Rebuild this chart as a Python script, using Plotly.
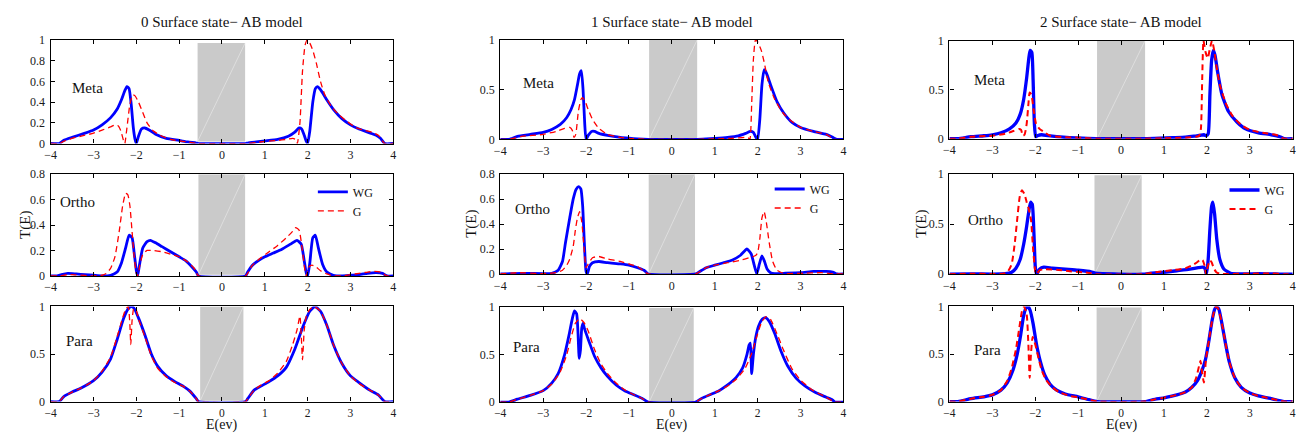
import plotly.graph_objects as go

# ---------------- data ----------------
TITLES = ["0 Surface state\u2212 AB model", "1 Surface state\u2212 AB model", "2 Surface state\u2212 AB model"]
ROW_NAMES = ["Meta", "Ortho", "Para"]
X_TICKS = [-4, -3, -2, -1, 0, 1, 2, 3, 4]

# column 0 (0 surface state)
wg_m0 = [(-4, 0), (-3.8, 0), (-3.7, 0.03), (-3.5, 0.06), (-3.2, 0.1), (-3.0, 0.13), (-2.8, 0.18), (-2.6, 0.25),
         (-2.45, 0.33), (-2.35, 0.42), (-2.27, 0.51), (-2.22, 0.55), (-2.17, 0.53), (-2.12, 0.38), (-2.07, 0.15),
         (-2.03, 0.04), (-2.0, 0), (-1.95, 0.07), (-1.88, 0.14), (-1.8, 0.15), (-1.7, 0.13), (-1.55, 0.09),
         (-1.3, 0.05), (-1.0, 0.03), (-0.8, 0.015), (-0.6, 0.005), (-0.55, 0), (0.55, 0), (0.6, 0.005),
         (0.8, 0.015), (1.0, 0.025), (1.3, 0.04), (1.55, 0.07), (1.7, 0.11), (1.8, 0.15), (1.86, 0.14),
         (1.92, 0.08), (1.97, 0.02), (2.0, 0), (2.05, 0.12), (2.12, 0.4), (2.18, 0.53), (2.23, 0.55), (2.3, 0.52),
         (2.45, 0.42), (2.6, 0.33), (2.8, 0.24), (3.0, 0.18), (3.2, 0.14), (3.4, 0.11), (3.6, 0.08), (3.7, 0.05),
         (3.8, 0), (4.0, 0)]
g_m0 = [(-4, 0), (-3.8, 0), (-3.7, 0.02), (-3.5, 0.05), (-3.2, 0.08), (-3.0, 0.1), (-2.8, 0.13), (-2.6, 0.16),
        (-2.5, 0.18), (-2.42, 0.17), (-2.36, 0.12), (-2.3, 0.03), (-2.27, 0), (-2.22, 0.15), (-2.15, 0.38),
        (-2.08, 0.47), (-2.03, 0.46), (-1.95, 0.4), (-1.85, 0.3), (-1.75, 0.2), (-1.6, 0.12), (-1.4, 0.07),
        (-1.2, 0.04), (-1.0, 0.025), (-0.8, 0.015), (-0.55, 0), (0.55, 0), (0.8, 0.01), (1.0, 0.02), (1.3, 0.03),
        (1.5, 0.04), (1.65, 0.05), (1.72, 0.04), (1.76, 0), (1.82, 0.2), (1.88, 0.7), (1.94, 0.95), (1.99, 1.0),
        (2.05, 0.97), (2.12, 0.9), (2.2, 0.78), (2.3, 0.6), (2.4, 0.47), (2.55, 0.36), (2.7, 0.29), (2.9, 0.22),
        (3.1, 0.16), (3.3, 0.13), (3.5, 0.11), (3.65, 0.08), (3.8, 0), (4, 0)]
wg_o0 = [(-4, 0), (-3.85, 0), (-3.75, 0.01), (-3.6, 0.02), (-3.4, 0.015), (-3.2, 0.01), (-3.0, 0.005),
         (-2.8, 0.0), (-2.6, 0.005), (-2.45, 0.03), (-2.35, 0.1), (-2.25, 0.22), (-2.17, 0.32), (-2.1, 0.3),
         (-2.05, 0.18), (-2.0, 0.04), (-1.97, 0), (-1.93, 0.08), (-1.85, 0.22), (-1.75, 0.27), (-1.67, 0.28),
         (-1.55, 0.26), (-1.4, 0.23), (-1.2, 0.19), (-1.0, 0.15), (-0.85, 0.12), (-0.7, 0.07), (-0.6, 0.03),
         (-0.55, 0), (0.55, 0), (0.6, 0.03), (0.7, 0.08), (0.85, 0.12), (1.0, 0.15), (1.2, 0.18), (1.4, 0.21),
         (1.6, 0.25), (1.75, 0.28), (1.85, 0.25), (1.92, 0.12), (1.97, 0.02), (2.0, 0), (2.05, 0.1), (2.12, 0.3),
         (2.18, 0.32), (2.25, 0.22), (2.35, 0.09), (2.45, 0.03), (2.6, 0.005), (2.8, 0.0), (3.0, 0.005),
         (3.2, 0.01), (3.4, 0.02), (3.6, 0.025), (3.75, 0.02), (3.85, 0), (4, 0)]
g_o0 = [(-4, 0), (-3.8, 0), (-3.6, 0.01), (-3.4, 0.008), (-3.0, 0.0), (-2.8, 0.005), (-2.7, 0.02), (-2.6, 0.06),
        (-2.5, 0.15), (-2.4, 0.35), (-2.32, 0.55), (-2.25, 0.65), (-2.2, 0.64), (-2.15, 0.55), (-2.1, 0.35),
        (-2.05, 0.15), (-2.0, 0.02), (-1.97, 0), (-1.92, 0.08), (-1.85, 0.17), (-1.75, 0.2), (-1.6, 0.2),
        (-1.4, 0.19), (-1.2, 0.17), (-1.0, 0.15), (-0.8, 0.11), (-0.65, 0.06), (-0.55, 0), (0.55, 0),
        (0.7, 0.08), (0.9, 0.14), (1.1, 0.19), (1.3, 0.24), (1.5, 0.3), (1.65, 0.35), (1.72, 0.38), (1.8, 0.36),
        (1.87, 0.22), (1.93, 0.06), (1.97, 0), (2.03, 0.07), (2.1, 0.085), (2.2, 0.07), (2.3, 0.04),
        (2.45, 0.015), (2.6, 0.0), (2.8, 0.0), (3.0, 0.01), (3.2, 0.02), (3.4, 0.03), (3.55, 0.035), (3.7, 0.03),
        (3.85, 0), (4, 0)]
wg_p0 = [(-4, 0), (-3.8, 0), (-3.7, 0.05), (-3.5, 0.1), (-3.3, 0.14), (-3.0, 0.22), (-2.8, 0.31), (-2.6, 0.45),
         (-2.45, 0.65), (-2.3, 0.87), (-2.2, 0.97), (-2.12, 1.0), (-2.05, 0.98), (-1.95, 0.88), (-1.8, 0.7),
         (-1.65, 0.5), (-1.5, 0.37), (-1.3, 0.27), (-1.1, 0.21), (-0.9, 0.16), (-0.75, 0.11), (-0.6, 0.03),
         (-0.55, 0), (0.55, 0), (0.6, 0.03), (0.75, 0.12), (0.9, 0.16), (1.1, 0.21), (1.3, 0.27), (1.5, 0.36),
         (1.7, 0.55), (1.9, 0.8), (2.05, 0.95), (2.17, 1.0), (2.3, 0.95), (2.45, 0.8), (2.6, 0.6), (2.8, 0.4),
         (3.0, 0.27), (3.2, 0.2), (3.45, 0.12), (3.65, 0.07), (3.8, 0), (4, 0)]
g_p0 = [(-4, 0), (-3.8, 0), (-3.7, 0.05), (-3.5, 0.1), (-3.3, 0.14), (-3.0, 0.22), (-2.8, 0.32), (-2.6, 0.47),
        (-2.45, 0.68), (-2.32, 0.88), (-2.25, 0.97), (-2.19, 1.0), (-2.15, 0.8), (-2.13, 0.6), (-2.1, 0.85),
        (-2.06, 0.98), (-2.0, 0.96), (-1.95, 0.87), (-1.8, 0.68), (-1.65, 0.48), (-1.5, 0.35), (-1.3, 0.26),
        (-1.1, 0.2), (-0.9, 0.16), (-0.75, 0.11), (-0.6, 0.03), (-0.55, 0), (0.55, 0), (0.6, 0.03), (0.75, 0.12),
        (0.9, 0.17), (1.1, 0.22), (1.3, 0.3), (1.5, 0.42), (1.65, 0.6), (1.75, 0.75), (1.82, 0.9), (1.85, 0.7),
        (1.88, 0.44), (1.92, 0.75), (1.97, 0.9), (2.05, 0.97), (2.15, 1.0), (2.3, 0.95), (2.45, 0.8), (2.6, 0.6),
        (2.8, 0.4), (3.0, 0.27), (3.2, 0.19), (3.45, 0.12), (3.65, 0.07), (3.8, 0), (4, 0)]

# column 1 (1 surface state)
wg_m1 = [(-4, 0), (-3.8, 0), (-3.6, 0.03), (-3.3, 0.05), (-3.0, 0.07), (-2.8, 0.1), (-2.6, 0.15), (-2.45, 0.22),
         (-2.35, 0.3), (-2.27, 0.4), (-2.2, 0.55), (-2.15, 0.66), (-2.11, 0.69), (-2.07, 0.5), (-2.03, 0.15),
         (-2.0, 0), (-1.95, 0.04), (-1.87, 0.08), (-1.8, 0.08), (-1.7, 0.06), (-1.5, 0.04), (-1.2, 0.02),
         (-1.0, 0.012), (-0.8, 0.005), (-0.55, 0), (0.55, 0), (0.8, 0.005), (1.0, 0.01), (1.3, 0.02),
         (1.55, 0.035), (1.72, 0.06), (1.83, 0.08), (1.9, 0.07), (1.96, 0.02), (2.0, 0), (2.05, 0.2), (2.1, 0.55),
         (2.15, 0.7), (2.2, 0.67), (2.3, 0.55), (2.45, 0.38), (2.6, 0.27), (2.8, 0.17), (3.0, 0.12), (3.3, 0.08),
         (3.6, 0.05), (3.75, 0.02), (3.85, 0), (4, 0)]
g_m1 = [(-4, 0), (-3.8, 0), (-3.5, 0.03), (-3.0, 0.05), (-2.7, 0.08), (-2.5, 0.11), (-2.38, 0.12), (-2.32, 0.09),
        (-2.28, 0.02), (-2.24, 0.05), (-2.18, 0.28), (-2.12, 0.4), (-2.08, 0.42), (-2.02, 0.38), (-1.95, 0.3),
        (-1.85, 0.2), (-1.7, 0.11), (-1.5, 0.05), (-1.2, 0.02), (-1.0, 0.01), (-0.55, 0), (0.55, 0), (1.0, 0.005),
        (1.4, 0.01), (1.7, 0.02), (1.78, 0.015), (1.82, 0), (1.86, 0.35), (1.9, 0.8), (1.95, 1.0), (2.0, 0.98),
        (2.08, 0.9), (2.15, 0.78), (2.25, 0.57), (2.4, 0.4), (2.6, 0.26), (2.8, 0.18), (3.0, 0.12), (3.3, 0.08),
        (3.6, 0.05), (3.8, 0), (4, 0)]
wg_o1 = [(-4, 0), (-3.5, 0.005), (-3.0, 0.003), (-2.8, 0.005), (-2.65, 0.03), (-2.55, 0.1), (-2.48, 0.25),
         (-2.38, 0.45), (-2.3, 0.6), (-2.23, 0.68), (-2.17, 0.7), (-2.12, 0.68), (-2.08, 0.55), (-2.04, 0.25),
         (-2.0, 0.02), (-1.97, 0), (-1.92, 0.06), (-1.85, 0.09), (-1.7, 0.1), (-1.5, 0.09), (-1.2, 0.08),
         (-1.0, 0.07), (-0.8, 0.05), (-0.65, 0.03), (-0.55, 0), (0.55, 0), (0.65, 0.02), (0.8, 0.05), (1.0, 0.07),
         (1.2, 0.09), (1.4, 0.11), (1.6, 0.15), (1.75, 0.2), (1.85, 0.16), (1.92, 0.07), (1.98, 0), (2.04, 0.08),
         (2.1, 0.145), (2.16, 0.1), (2.22, 0.04), (2.3, 0.01), (2.4, 0.003), (2.6, 0.005), (3.0, 0.01),
         (3.3, 0.02), (3.6, 0.02), (3.75, 0.015), (3.85, 0), (4, 0)]
g_o1 = [(-4, 0), (-3.6, 0.01), (-3.0, 0.003), (-2.7, 0.01), (-2.55, 0.03), (-2.45, 0.07), (-2.38, 0.12),
        (-2.3, 0.22), (-2.25, 0.35), (-2.2, 0.45), (-2.15, 0.5), (-2.1, 0.42), (-2.05, 0.22), (-2.0, 0.05),
        (-1.95, 0.08), (-1.85, 0.13), (-1.7, 0.14), (-1.5, 0.12), (-1.2, 0.1), (-1.0, 0.08), (-0.8, 0.06),
        (-0.55, 0), (0.55, 0), (0.8, 0.05), (1.0, 0.07), (1.3, 0.09), (1.6, 0.11), (1.8, 0.13), (1.9, 0.14),
        (1.96, 0.15), (2.0, 0.17), (2.05, 0.28), (2.1, 0.45), (2.15, 0.5), (2.2, 0.42), (2.27, 0.25),
        (2.35, 0.1), (2.45, 0.03), (2.6, 0.005), (3.0, 0.005), (3.5, 0.01), (3.8, 0), (4, 0)]
wg_p1 = [(-4, 0), (-3.8, 0), (-3.6, 0.03), (-3.3, 0.07), (-3.0, 0.12), (-2.8, 0.2), (-2.65, 0.3), (-2.5, 0.5),
         (-2.4, 0.7), (-2.32, 0.88), (-2.27, 0.96), (-2.22, 0.93), (-2.19, 0.75), (-2.16, 0.46), (-2.13, 0.55),
         (-2.1, 0.78), (-2.07, 0.83), (-2.04, 0.78), (-1.98, 0.7), (-1.9, 0.6), (-1.8, 0.48), (-1.65, 0.36),
         (-1.5, 0.27), (-1.3, 0.18), (-1.1, 0.12), (-0.9, 0.08), (-0.7, 0.04), (-0.55, 0), (0.55, 0), (0.7, 0.04),
         (0.9, 0.08), (1.1, 0.12), (1.3, 0.18), (1.5, 0.26), (1.65, 0.36), (1.75, 0.5), (1.8, 0.6), (1.83, 0.62),
         (1.86, 0.3), (1.9, 0.5), (1.95, 0.67), (2.02, 0.8), (2.1, 0.87), (2.18, 0.89), (2.27, 0.85), (2.4, 0.72),
         (2.55, 0.53), (2.7, 0.38), (2.9, 0.25), (3.1, 0.17), (3.35, 0.1), (3.6, 0.05), (3.75, 0.02), (3.8, 0),
         (4, 0)]
g_p1 = [(-4, 0), (-3.8, 0), (-3.6, 0.03), (-3.3, 0.07), (-3.0, 0.12), (-2.8, 0.19), (-2.6, 0.32), (-2.45, 0.5),
        (-2.35, 0.68), (-2.25, 0.83), (-2.15, 0.88), (-2.05, 0.84), (-1.95, 0.75), (-1.8, 0.55), (-1.65, 0.4),
        (-1.5, 0.3), (-1.3, 0.2), (-1.1, 0.13), (-0.9, 0.08), (-0.7, 0.04), (-0.55, 0), (0.55, 0), (0.7, 0.04),
        (0.9, 0.08), (1.1, 0.12), (1.3, 0.17), (1.5, 0.24), (1.7, 0.35), (1.85, 0.5), (2.0, 0.72), (2.1, 0.85),
        (2.2, 0.9), (2.3, 0.87), (2.45, 0.72), (2.6, 0.55), (2.8, 0.35), (3.0, 0.23), (3.3, 0.12), (3.6, 0.05),
        (3.8, 0), (4, 0)]

# column 2 (2 surface states)
wg_m2 = [(-4, 0), (-3.8, 0), (-3.5, 0.02), (-3.2, 0.03), (-3.0, 0.04), (-2.8, 0.06), (-2.6, 0.1), (-2.45, 0.16),
         (-2.35, 0.25), (-2.27, 0.4), (-2.2, 0.62), (-2.15, 0.82), (-2.12, 0.9), (-2.08, 0.88), (-2.05, 0.6),
         (-2.02, 0.15), (-1.99, 0.02), (-1.95, 0.03), (-1.85, 0.04), (-1.7, 0.03), (-1.5, 0.02), (-1.2, 0.01),
         (-0.9, 0.005), (-0.55, 0), (0.55, 0), (0.9, 0.005), (1.2, 0.01), (1.5, 0.015), (1.7, 0.025),
         (1.85, 0.035), (1.93, 0.04), (1.98, 0.03), (2.03, 0.05), (2.07, 0.45), (2.11, 0.8), (2.15, 0.9),
         (2.19, 0.85), (2.25, 0.68), (2.35, 0.45), (2.5, 0.28), (2.7, 0.17), (2.9, 0.1), (3.2, 0.06), (3.5, 0.04),
         (3.7, 0.02), (3.8, 0), (4, 0)]
g_m2 = [(-4, 0), (-3.8, 0), (-3.5, 0.02), (-3.0, 0.03), (-2.7, 0.05), (-2.5, 0.08), (-2.38, 0.1), (-2.33, 0.09),
        (-2.29, 0.03), (-2.25, 0.04), (-2.2, 0.15), (-2.16, 0.35), (-2.13, 0.47), (-2.09, 0.45), (-2.04, 0.3),
        (-1.98, 0.15), (-1.9, 0.1), (-1.8, 0.07), (-1.65, 0.03), (-1.3, 0.015), (-1.0, 0.01), (-0.55, 0), (0.55, 0),
        (1.0, 0.005), (1.5, 0.01), (1.75, 0.02), (1.82, 0.03), (1.86, 0.1), (1.89, 0.6), (1.92, 1.0), (1.97, 0.88),
        (2.02, 0.82), (2.07, 0.92), (2.12, 1.0), (2.17, 0.9), (2.22, 0.75), (2.3, 0.55), (2.45, 0.35),
        (2.6, 0.23), (2.8, 0.14), (3.0, 0.09), (3.3, 0.06), (3.6, 0.04), (3.8, 0), (4, 0)]
wg_o2 = [(-4, 0), (-3.5, 0.003), (-3.0, 0.002), (-2.7, 0.005), (-2.55, 0.02), (-2.45, 0.06), (-2.35, 0.15),
         (-2.27, 0.3), (-2.2, 0.48), (-2.15, 0.63), (-2.11, 0.72), (-2.07, 0.7), (-2.03, 0.4), (-2.0, 0.08),
         (-1.97, 0), (-1.9, 0.05), (-1.8, 0.07), (-1.6, 0.06), (-1.3, 0.05), (-1.0, 0.04), (-0.7, 0.025),
         (-0.6, 0.01), (0.5, 0), (0.7, 0.01), (1.0, 0.02), (1.3, 0.035), (1.6, 0.05), (1.8, 0.065), (1.9, 0.07),
         (1.95, 0.06), (1.99, 0), (2.03, 0.15), (2.07, 0.45), (2.11, 0.68), (2.14, 0.72), (2.18, 0.6),
         (2.23, 0.35), (2.3, 0.15), (2.4, 0.05), (2.55, 0.01), (2.8, 0.003), (3.2, 0.005), (3.6, 0.003),
         (3.8, 0), (4, 0)]
g_o2 = [(-4, 0), (-3.5, 0.005), (-3.0, 0.003), (-2.75, 0.005), (-2.65, 0.02), (-2.55, 0.1), (-2.48, 0.3),
        (-2.42, 0.55), (-2.36, 0.78), (-2.31, 0.84), (-2.25, 0.8), (-2.2, 0.72), (-2.15, 0.65), (-2.1, 0.55),
        (-2.05, 0.25), (-2.0, 0.03), (-1.97, 0), (-1.9, 0.04), (-1.8, 0.05), (-1.5, 0.045), (-1.2, 0.03),
        (-0.9, 0.02), (-0.7, 0.01), (-0.6, 0), (0.5, 0), (0.8, 0.02), (1.2, 0.04), (1.5, 0.06), (1.7, 0.1),
        (1.8, 0.13), (1.85, 0.15), (1.9, 0.14), (1.95, 0.08), (1.98, 0), (2.02, 0.08), (2.07, 0.14), (2.11, 0.12),
        (2.16, 0.06), (2.22, 0.02), (2.3, 0.005), (2.5, 0.003), (3.0, 0.005), (3.5, 0.008), (3.8, 0), (4, 0)]
wg_p2 = [(-4, 0), (-3.8, 0), (-3.5, 0.03), (-3.2, 0.05), (-3.0, 0.07), (-2.8, 0.12), (-2.65, 0.2),
         (-2.52, 0.33), (-2.42, 0.5), (-2.34, 0.7), (-2.28, 0.88), (-2.22, 0.98), (-2.17, 1.0), (-2.12, 0.96),
         (-2.05, 0.82), (-1.97, 0.6), (-1.88, 0.42), (-1.78, 0.28), (-1.65, 0.18), (-1.5, 0.12), (-1.3, 0.08),
         (-1.0, 0.05), (-0.75, 0.02), (-0.55, 0), (0.55, 0), (0.75, 0.02), (1.0, 0.04), (1.3, 0.07), (1.5, 0.1),
         (1.65, 0.15), (1.78, 0.22), (1.88, 0.32), (1.97, 0.45), (2.05, 0.65), (2.12, 0.85), (2.18, 0.97),
         (2.23, 1.0), (2.28, 0.97), (2.35, 0.82), (2.43, 0.62), (2.52, 0.42), (2.65, 0.25), (2.8, 0.15),
         (3.0, 0.09), (3.2, 0.06), (3.5, 0.03), (3.8, 0), (4, 0)]
g_p2 = [(-4, 0), (-3.8, 0), (-3.5, 0.03), (-3.2, 0.05), (-3.0, 0.07), (-2.8, 0.12), (-2.65, 0.22),
        (-2.55, 0.35), (-2.45, 0.55), (-2.37, 0.78), (-2.31, 0.95), (-2.26, 1.0), (-2.2, 0.92), (-2.16, 0.6),
        (-2.13, 0.25), (-2.1, 0.5), (-2.06, 0.68), (-2.0, 0.6), (-1.92, 0.45), (-1.85, 0.33), (-1.75, 0.23),
        (-1.6, 0.15), (-1.45, 0.1), (-1.2, 0.06), (-1.0, 0.045), (-0.75, 0.02), (-0.55, 0), (0.55, 0),
        (0.75, 0.02), (1.0, 0.04), (1.3, 0.07), (1.5, 0.1), (1.65, 0.15), (1.75, 0.25), (1.82, 0.38),
        (1.85, 0.43), (1.89, 0.3), (1.93, 0.2), (1.98, 0.45), (2.05, 0.65), (2.12, 0.85), (2.18, 0.97),
        (2.22, 1.0), (2.27, 0.97), (2.35, 0.82), (2.43, 0.62), (2.52, 0.42), (2.65, 0.25), (2.8, 0.15),
        (3.0, 0.09), (3.2, 0.06), (3.5, 0.03), (3.8, 0), (4, 0)]

# gray gap boxes (x0, x1, y0, y1) in data units, per column / row
gap_boxes = [[(-0.57, 0.54, 0.02, 0.97), (-0.55, 0.54, 0.008, 0.8), (-0.51, 0.50, 0.008, 1.0)],
             [(-0.53, 0.59, 0.0, 1.0), (-0.54, 0.54, 0.0, 0.8), (-0.53, 0.51, 0.0, 0.99)],
             [(-0.56, 0.56, 0.0, 1.0), (-0.62, 0.48, 0.0, 0.99), (-0.57, 0.48, 0.0, 0.99)]]
label_pos = [[(-3.15, 0.54), (-3.38, 0.58), (-3.33, 0.64)],
             [(-3.12, 0.57), (-3.25, 0.52), (-3.39, 0.58)],
             [(-3.07, 0.60), (-3.15, 0.54), (-3.11, 0.54)]]
y_max = [[1, 0.8, 1], [1, 0.8, 1], [1, 1, 1]]
y_step = [[0.2, 0.2, 0.5], [0.5, 0.2, 0.5], [0.5, 0.5, 0.5]]

series = [[(wg_m0, g_m0), (wg_o0, g_o0), (wg_p0, g_p0)],
          [(wg_m1, g_m1), (wg_o1, g_o1), (wg_p1, g_p1)],
          [(wg_m2, g_m2), (wg_o2, g_o2), (wg_p2, g_p2)]]

# ---------------- layout geometry (pixels) ----------------
W, H = 1300, 441
col_px = [(45, 390), (497.7, 843.3), (950, 1295.7)]
row_px = [[(34, 141), (172.7, 277.7), (309.3, 407.5)],
          [(34, 136.7), (172.7, 275.7), (310, 408)],
          [(34.7, 136), (172.7, 276), (309.3, 407.5)]]
legend_px = [(309, 176), (769, 173), (1227, 174)]
blue_w = [2.8, 2.8, 3.3]
red_w = [1.3, 1.3, 2.0]

FONT = "Liberation Serif"
BLUE = "#0000ff"
RED = "#ff0000"

fig = go.Figure()
layout = dict(
    width=W, height=H, margin=dict(l=0, r=0, t=0, b=0),
    paper_bgcolor="white", plot_bgcolor="white",
    font=dict(family=FONT, size=12, color="#1a1a1a"),
    showlegend=True,
)
shapes, annotations = [], []

for c in range(3):
    for r in range(3):
        k = c * 3 + r + 1
        xa = "xaxis" if k == 1 else f"xaxis{k}"
        ya = "yaxis" if k == 1 else f"yaxis{k}"
        xr = "x" if k == 1 else f"x{k}"
        yr = "y" if k == 1 else f"y{k}"
        x0p, x1p = col_px[c]
        t, b = row_px[c][r]
        ym = y_max[c][r]
        axis_common = dict(showline=True, linecolor="black", linewidth=1.4, mirror="ticks",
                           ticks="inside", ticklen=4, tickcolor="black", tickwidth=1,
                           showgrid=False, zeroline=False, fixedrange=True)
        xfont = dict(family=FONT, size=(11.5 if r == 2 else 12), color="#1a1a1a")
        layout[xa] = dict(domain=[x0p / W, x1p / W], anchor=yr, range=[-4, 4],
                          tickvals=X_TICKS, ticklabelstandoff=0, tickfont=xfont, **axis_common)
        layout[ya] = dict(domain=[1 - b / H, 1 - t / H], anchor=xr, range=[0, ym],
                          tick0=0, dtick=y_step[c][r], ticklabelstandoff=2,
                          tickfont=dict(family=FONT, size=12, color="#1a1a1a"), **axis_common)

        gx0, gx1, gy0, gy1 = gap_boxes[c][r]
        shapes.append(dict(type="rect", xref=xr, yref=yr, x0=gx0, x1=gx1, y0=gy0, y1=gy1,
                           fillcolor="#cacaca", line=dict(width=0), layer="below"))
        shapes.append(dict(type="line", xref=xr, yref=yr, x0=gx0, x1=gx1, y0=gy0, y1=gy1,
                           line=dict(color="rgba(255,255,255,0.55)", width=0.7), layer="below"))

        lx, ly = label_pos[c][r]
        annotations.append(dict(xref=xr, yref=yr, x=lx, y=ly, text=ROW_NAMES[r], showarrow=False,
                                font=dict(family=FONT, size=15, color="#111")))

        wg, g = series[c][r]
        leg = "legend" if c == 0 else f"legend{c + 1}"
        show = (r == 1)
        fig.add_trace(go.Scatter(x=[p[0] for p in wg], y=[p[1] for p in wg], mode="lines", name="WG",
                                 xaxis=xr, yaxis=yr, legend=leg, showlegend=show,
                                 line=dict(color=BLUE, width=blue_w[c], shape="spline", smoothing=0.5)))
        fig.add_trace(go.Scatter(x=[p[0] for p in g], y=[p[1] for p in g], mode="lines", name="G",
                                 xaxis=xr, yaxis=yr, legend=leg, showlegend=show,
                                 line=dict(color=RED, width=red_w[c], dash="6px,4px", shape="spline",
                                           smoothing=0.5)))

    # column title
    cx = (col_px[c][0] + col_px[c][1]) / 2
    annotations.append(dict(xref="paper", yref="paper", x=cx / W, y=1 - 16 / H, text=TITLES[c],
                            showarrow=False, font=dict(family=FONT, size=15, color="#111"),
                            xanchor="center", yanchor="middle"))
    # y label T(E)
    tx = [19, 468, 922][c]
    t, b = row_px[c][1]
    annotations.append(dict(xref="paper", yref="paper", x=tx / W, y=1 - (t + b) / 2 / H, text="T(E)",
                            textangle=-90, showarrow=False, font=dict(family=FONT, size=15, color="#111"),
                            xanchor="center", yanchor="middle"))
    # x label E(ev)
    annotations.append(dict(xref="paper", yref="paper", x=cx / W, y=0, text="E(ev)",
                            showarrow=False, font=dict(family=FONT, size=14, color="#111"),
                            xanchor="center", yanchor="bottom", borderpad=0))
    # legend
    lname = "legend" if c == 0 else f"legend{c + 1}"
    lxp, lyp = legend_px[c]
    layout[lname] = dict(x=lxp / W, y=1 - lyp / H, xanchor="left", yanchor="top",
                         bgcolor="rgba(0,0,0,0)", borderwidth=0, itemwidth=30,
                         font=dict(family=FONT, size=12, color="#111"), tracegroupgap=0)

layout["shapes"] = shapes
layout["annotations"] = annotations
fig.update_layout(**layout)
fig.write_html("out.html")
